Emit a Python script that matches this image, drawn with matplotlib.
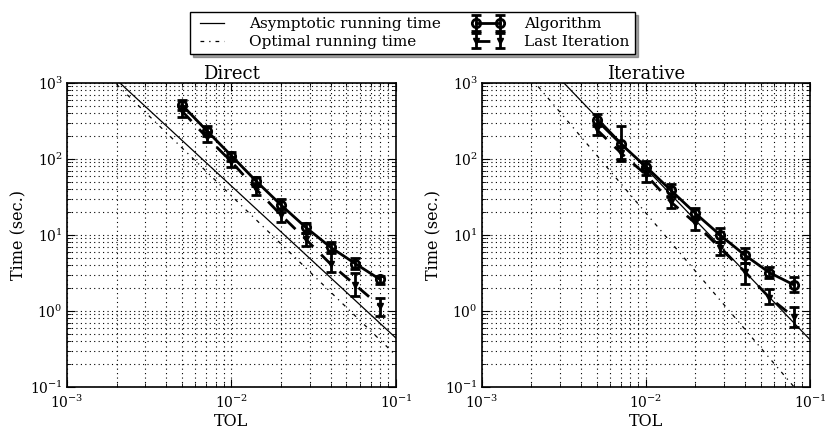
import numpy as np
import matplotlib
matplotlib.use('Agg')
import matplotlib.pyplot as plt

plt.rcParams['font.family'] = ['DejaVu Serif']
plt.rcParams['mathtext.fontset'] = 'cm'
plt.rcParams['xtick.direction'] = 'in'
plt.rcParams['ytick.direction'] = 'in'
plt.rcParams['xtick.top'] = True
plt.rcParams['ytick.right'] = True

tol = [0.005, 0.00707, 0.01, 0.01414, 0.02, 0.02828, 0.04, 0.05657, 0.08]

# Direct solver timings
direct_alg = [514, 236, 110, 51, 24.8, 12.6, 6.9, 4.2, 2.6]
direct_alg_lo = [440, 200, 95, 44, 20, 10.5, 5.8, 3.6, 2.3]
direct_alg_hi = [590, 270, 125, 58, 30, 14.5, 8.2, 5.0, 2.9]
direct_last = [428, 193, 92, 40, 18.3, 8.8, 4.15, 2.2, 1.16]
direct_last_lo = [360, 165, 78, 34, 15, 7.2, 3.3, 1.57, 0.86]
direct_last_hi = [500, 225, 106, 47, 22, 10.5, 6.0, 3.16, 1.48]

# Iterative solver timings
iter_alg = [326, 156, 79, 39, 19.3, 10, 5.45, 3.2, 2.2]
iter_alg_lo = [270, 100, 62, 32, 16, 8, 4.3, 2.7, 1.8]
iter_alg_hi = [390, 272, 95, 47, 23, 12.5, 6.8, 3.8, 2.8]
iter_last = [245, 119, 62, 27.4, 14.3, 6.7, 3.3, 1.5, 0.83]
iter_last_lo = [210, 95, 50, 23, 11.5, 5.5, 2.3, 1.24, 0.62]
iter_last_hi = [290, 150, 75, 33, 17, 8, 4.3, 1.96, 1.13]

# reference complexity lines (end points)
ref_tol = [0.002, 0.1]
direct_asym = [1100, 0.44]
direct_opt = [960, 0.26]
iter_ref_tol = [0.00316, 0.1]
iter_asym = [1000, 0.42]
iter_opt_tol = [0.0022, 0.08]
iter_opt = [900, 0.1]


def panel(ax, title, alg, alg_lo, alg_hi, last, last_lo, last_hi,
          asym_x, asym_y, opt_x, opt_y):
    alg = np.array(alg)
    last = np.array(last)
    h_asym, = ax.plot(asym_x, asym_y, 'k-', lw=0.9)
    h_opt, = ax.plot(opt_x, opt_y, 'k-.', lw=0.9, dashes=(3, 4, 1, 4))
    h_alg = ax.errorbar(tol, alg, yerr=[alg - np.array(alg_lo), np.array(alg_hi) - alg],
                        fmt='-o', color='k', mfc='none', mec='k', mew=2, ms=6,
                        lw=2, elinewidth=2, capsize=3.5, capthick=2)
    h_last = ax.errorbar(tol, last, yerr=[last - np.array(last_lo), np.array(last_hi) - last],
                         fmt='--v', color='k', mfc='k', ms=5, dashes=(5, 4),
                         lw=2, elinewidth=2, capsize=3.5, capthick=2)
    ax.set_xscale('log')
    ax.set_yscale('log')
    ax.set_xlim(1e-3, 1e-1)
    ax.set_ylim(1e-1, 1e3)
    ax.grid(True, which='both', color='k', linestyle=(0, (1, 3)), lw=0.8)
    ax.set_title(title, fontsize=13, pad=3)
    ax.set_xlabel('TOL', fontsize=11.5, labelpad=1)
    ax.set_ylabel('Time (sec.)', fontsize=11.5, labelpad=2)
    ax.tick_params(which='major', labelsize=10, length=6, pad=3)
    ax.tick_params(axis='x', which='major', pad=5)
    ax.tick_params(which='minor', length=3)
    for s in ax.spines.values():
        s.set_linewidth(1.2)
    return h_asym, h_opt, h_alg, h_last


fig = plt.figure(figsize=(8.25, 4.28), dpi=100)
ax1 = fig.add_axes([0.0812, 0.0958, 0.3988, 0.7103])
ax2 = fig.add_axes([0.5842, 0.0958, 0.3976, 0.7103])

handles = panel(ax1, 'Direct', direct_alg, direct_alg_lo, direct_alg_hi,
                direct_last, direct_last_lo, direct_last_hi,
                ref_tol, direct_asym, ref_tol, direct_opt)
panel(ax2, 'Iterative', iter_alg, iter_alg_lo, iter_alg_hi,
      iter_last, iter_last_lo, iter_last_hi,
      iter_ref_tol, iter_asym, iter_opt_tol, iter_opt)

labels = ['Asymptotic running time', 'Optimal running time', 'Algorithm', 'Last Iteration']
fig.legend(handles, labels, loc='upper center', bbox_to_anchor=(0.5, 0.99),
           ncol=2, numpoints=2, fontsize=11, fancybox=False, shadow=True,
           edgecolor='k', framealpha=1, borderpad=0.35, labelspacing=0.25,
           columnspacing=2.0, handlelength=2.2, handletextpad=1.3)

fig.savefig('out.png', dpi=100)
